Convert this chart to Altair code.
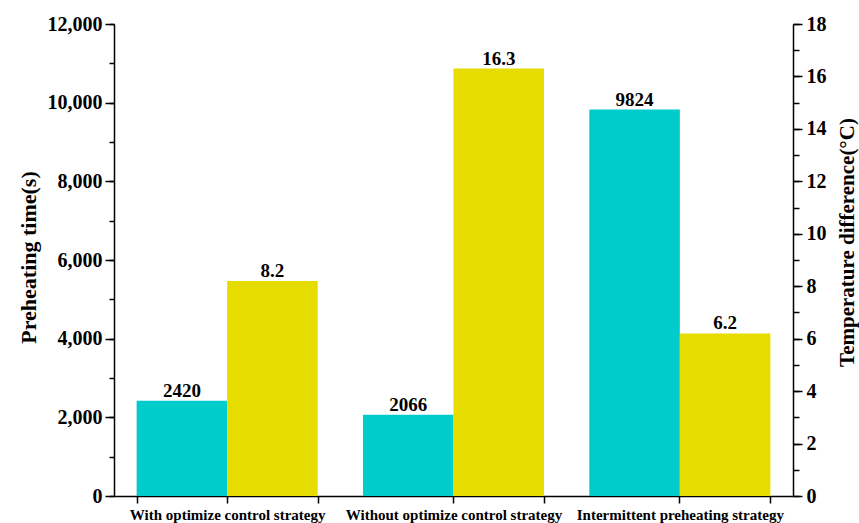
import altair as alt
import pandas as pd

categories = ["With optimize control strategy", "Without optimize control strategy", "Intermittent preheating strategy"]
preheat_time = [2420, 2066, 9824]
temp_diff = [8.2, 16.3, 6.2]
time_labels = ["2420", "2066", "9824"]
temp_labels = ["8.2", "16.3", "6.2"]

left_major = list(range(0, 12001, 2000))
left_minor = list(range(0, 12001, 1000))
right_major = list(range(0, 19, 2))
right_minor = list(range(0, 19, 1))

TEAL = "#00CCCC"
YELLOW = "#E6DC00"
FONT = "Liberation Serif"

df = pd.DataFrame({
    "category": categories,
    "time": preheat_time,
    "temp": temp_diff,
    "tlab": time_labels,
    "dlab": temp_labels,
})

xscale = alt.Scale(domain=categories, paddingInner=0.2, paddingOuter=0.1)
offscale = alt.Scale(domain=["time", "temp"], paddingInner=0, paddingOuter=0)

x_main = alt.X("category:N", sort=categories, scale=xscale, title=None,
               axis=alt.Axis(orient="bottom", tickBand="extent", labelAngle=0, labelFont=FONT,
                             labelFontSize=15, labelLimit=400,
                             labelFontWeight="bold", labelColor="black", labelPadding=4,
                             tickSize=7, tickWidth=1.5, tickColor="black",
                             domainColor="black", domainWidth=1.5, labelBaseline="top"))
x_center = alt.X("category:N", sort=categories, scale=xscale, title=None,
                 axis=alt.Axis(orient="bottom", labels=False, domain=False, tickSize=7,
                               tickWidth=1.5, tickColor="black"))
x_none = alt.X("category:N", sort=categories, scale=xscale, title=None, axis=None)

y1_axis = alt.Axis(
    orient="left", values=left_major, format=",d",
    tickSize=9, tickWidth=1.5, tickColor="black", domainColor="black", domainWidth=1.5,
    labelFont=FONT, labelFontSize=20, labelFontWeight="bold", labelColor="black",
    labelPadding=3, grid=False,
    title="Preheating time(s)", titleFont=FONT, titleFontSize=22, titleFontWeight="bold",
    titleColor="black", titleAngle=270, titleX=-86, titleY=233, titleAlign="center",
    titleBaseline="middle",
)
y1_minor = alt.Axis(orient="left", values=left_minor, labels=False, domain=False, title=None,
                    tickSize=5, tickWidth=1.5, tickColor="black", grid=False)
y2_axis = alt.Axis(
    orient="right", values=right_major, format="d",
    tickSize=9, tickWidth=1.5, tickColor="black", domainColor="black", domainWidth=1.5,
    labelFont=FONT, labelFontSize=20, labelFontWeight="bold", labelColor="black",
    labelPadding=4, grid=False,
    title="Temperature difference(°C)", titleFont=FONT, titleFontSize=21, titleFontWeight="bold",
    titleColor="black", titleAngle=270, titleX=54, titleY=218, titleAlign="center",
    titleBaseline="middle",
)
y2_minor = alt.Axis(orient="right", values=right_minor, labels=False, domain=False, title=None,
                    tickSize=6, tickWidth=1.5, tickColor="black", grid=False)

s1 = alt.Scale(domain=[0, 12000], nice=False)
s2 = alt.Scale(domain=[0, 18], nice=False)

base = alt.Chart(df)

bars1 = base.transform_calculate(s="'time'").mark_bar(color=TEAL).encode(
    x=x_main, xOffset=alt.XOffset("s:N", scale=offscale),
    y=alt.Y("time:Q", scale=s1, axis=y1_axis))
text1 = base.transform_calculate(s="'time'").mark_text(
    font=FONT, fontSize=19, fontWeight="bold", color="black", baseline="alphabetic", dy=-4
).encode(x=x_center, xOffset=alt.XOffset("s:N", scale=offscale),
         y=alt.Y("time:Q", scale=s1, axis=y1_minor), text="tlab:N")

bars2 = base.transform_calculate(s="'temp'").mark_bar(color=YELLOW).encode(
    x=x_none, xOffset=alt.XOffset("s:N", scale=offscale),
    y=alt.Y("temp:Q", scale=s2, axis=y2_axis))
text2 = base.transform_calculate(s="'temp'").mark_text(
    font=FONT, fontSize=19, fontWeight="bold", color="black", baseline="alphabetic", dy=-4
).encode(x=x_none, xOffset=alt.XOffset("s:N", scale=offscale),
         y=alt.Y("temp:Q", scale=s2, axis=y2_minor), text="dlab:N")

left = alt.layer(bars1, text1).resolve_axis(x="independent", y="independent")
right = alt.layer(bars2, text2).resolve_axis(x="independent", y="independent")

chart = alt.layer(left, right).resolve_scale(y="independent").resolve_axis(
    x="independent", y="independent"
).properties(
    width=679, height=472,
    autosize=alt.AutoSizeParams(type="none"),
    padding={"left": 114, "top": 24, "right": 66, "bottom": 27},
    background="white",
).configure_view(strokeWidth=0)

chart.save("out.html", embed_options={"renderer": "svg", "actions": False})
